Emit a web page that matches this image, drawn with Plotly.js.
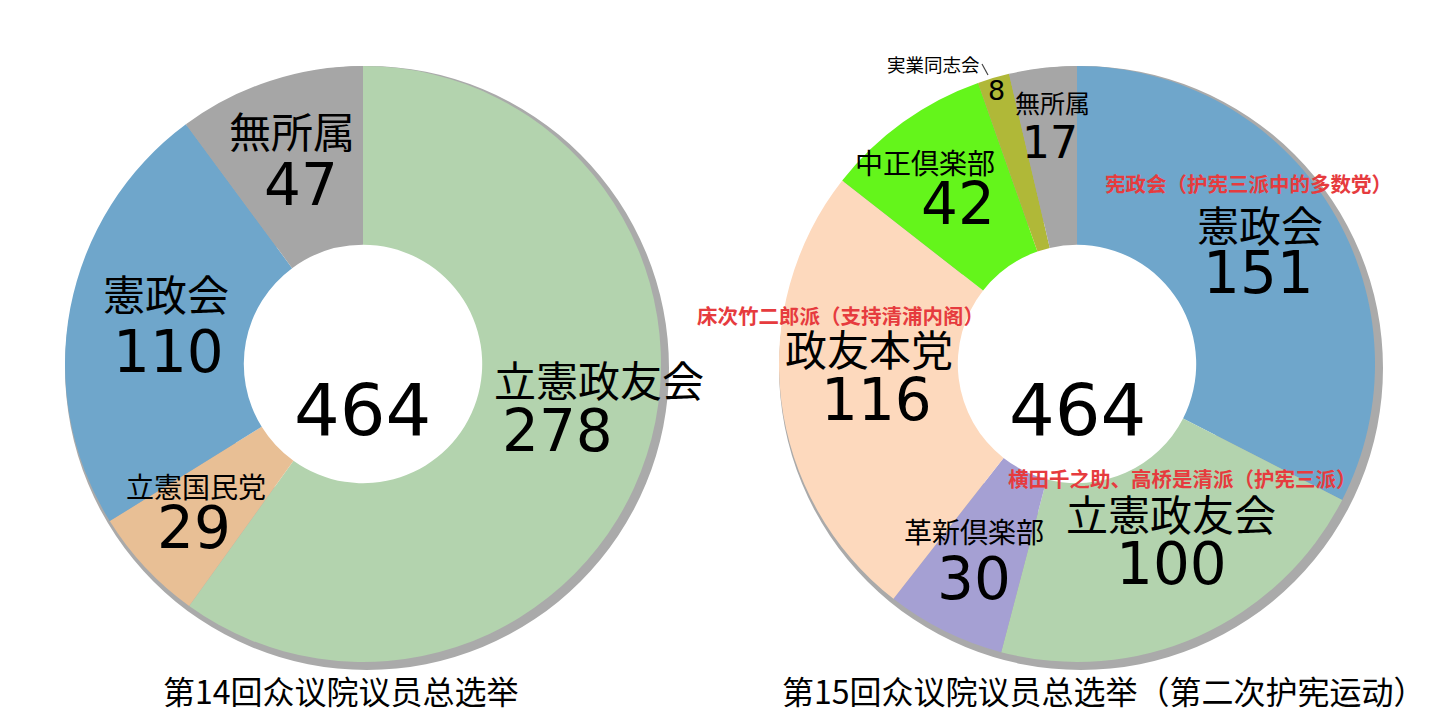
<!DOCTYPE html>
<html>
<head>
<meta charset="utf-8">
<script src="https://cdn.plot.ly/plotly-3.0.1.min.js"></script>
<style>html,body{margin:0;padding:0;background:#fff;}#chart{width:1440px;height:727px;}</style>
</head>
<body>
<div id="chart"></div>
<script>
// ---- data ----
const leftTitle = '第14回众议院议员总选举';
const leftParties = ['立憲政友会', '立憲国民党', '憲政会', '無所属'];
const leftSeats = [278, 29, 110, 47];

const rightTitle = '第15回众议院议员总选举（第二次护宪运动）';
const rightParties = ['憲政会', '立憲政友会', '革新倶楽部', '政友本党', '中正倶楽部', '実業同志会', '無所属'];
const rightSeats = [151, 100, 30, 116, 42, 8, 17];

const rightNotes = ['宪政会（护宪三派中的多数党）', '床次竹二郎派（支持清浦内阁）', '横田千之助、高桥是清派（护宪三派）'];

// ---- styles / layout ----
const leftColors = ['#b3d3ae', '#e8bf95', '#6fa6cb', '#a6a6a6'];
const rightColors = ['#6fa6cb', '#b3d3ae', '#a5a0d3', '#fdd9bd', '#64f51b', '#b0b838', '#a6a6a6'];

const W = 1440, H = 727;
const R = 298;
const centers = [[363, 364], [1077, 364]];

// label positions in pixels: [nameX, nameY, nameSize, valX, valY, valSize]
const leftLabelPos = [
  [599, 378, 42, 557, 431, 58],
  [196, 486, 28, 194, 528, 58],
  [166, 293, 42, 168, 352, 58],
  [292, 130, 42, 301, 185, 58]
];
const rightLabelPos = [
  [1260, 223, 42, 1258, 273, 58],
  [1171, 512, 42, 1171, 564, 58],
  [974, 531, 28, 974, 579, 58],
  [869, 348, 42, 877, 400, 58],
  [925, 162, 28, 958, 204, 58],
  [933, 64, 18.5, 996, 90, 27],
  [1052, 102, 25, 1050, 142, 44]
];
const notePos = [[1248, 183], [840, 315], [1182, 478]];
const titlePos = [[341, 690], [1104, 690]];

function dom(cx, cy, r) {
  const yb = H - cy;
  return { x: [(cx - r) / W, (cx + r) / W], y: [(yb - r) / H, (yb + r) / H] };
}
const px = x => x / W;
const py = y => 1 - y / H;

function shadow(c) {
  return {
    type: 'pie', values: [1], marker: { colors: ['#aaaaaa'], line: { width: 0 } },
    hole: 0.5, sort: false, textinfo: 'none', hoverinfo: 'skip',
    domain: dom(c[0] + 4, c[1] + 4, R + 4), showlegend: false
  };
}
function donut(c, labels, values, colors) {
  return {
    type: 'pie', labels: labels, values: values,
    marker: { colors: colors, line: { width: 0 } },
    hole: 0.4, sort: false, direction: 'clockwise', rotation: 0,
    textinfo: 'none', hoverinfo: 'label+value',
    domain: dom(c[0], c[1], R), showlegend: false
  };
}

const data = [
  shadow(centers[0]), donut(centers[0], leftParties, leftSeats, leftColors),
  shadow(centers[1]), donut(centers[1], rightParties, rightSeats, rightColors)
];

const CJK = 'Noto Sans CJK JP, Noto Sans CJK SC, sans-serif';
const NUM = 'DejaVu Sans, Noto Sans CJK JP, sans-serif';
const ann = [];
function addText(text, x, y, size, family, color, extra) {
  ann.push(Object.assign({
    text: text, x: px(x), y: py(y), xref: 'paper', yref: 'paper',
    xanchor: 'center', yanchor: 'middle', showarrow: false,
    font: { family: family, size: size, color: color || '#000' }
  }, extra || {}));
}
leftParties.forEach((p, i) => {
  const L = leftLabelPos[i];
  addText(p, L[0], L[1], L[2], CJK);
  addText(String(leftSeats[i]), L[3], L[4], L[5], NUM);
});
rightParties.forEach((p, i) => {
  const L = rightLabelPos[i];
  addText(p, L[0], L[1], L[2], CJK);
  addText(String(rightSeats[i]), L[3], L[4], L[5], NUM);
});
const sum = a => a.reduce((s, v) => s + v, 0);
addText(String(sum(leftSeats)), 362, 410, 72, NUM);
addText(String(sum(rightSeats)), 1077, 410, 72, NUM);
rightNotes.forEach((n, i) => {
  addText('<b>' + n + '</b>', notePos[i][0], notePos[i][1], 20.5, 'Noto Sans CJK SC, sans-serif', '#e63b3e');
});
addText(leftTitle, titlePos[0][0], titlePos[0][1], 32, 'Noto Sans CJK SC, sans-serif');
addText(rightTitle, titlePos[1][0], titlePos[1][1], 32, 'Noto Sans CJK SC, sans-serif');

const layout = {
  width: W, height: H,
  margin: { l: 0, r: 0, t: 0, b: 0 },
  paper_bgcolor: '#ffffff', plot_bgcolor: '#ffffff',
  showlegend: false,
  annotations: ann,
  shapes: [{
    type: 'line', xref: 'paper', yref: 'paper',
    x0: px(982), y0: py(64), x1: px(988), y1: py(75),
    line: { color: '#444', width: 1.2 }
  }]
};

Plotly.newPlot('chart', data, layout, { displayModeBar: false, staticPlot: true });
</script>
</body>
</html>
